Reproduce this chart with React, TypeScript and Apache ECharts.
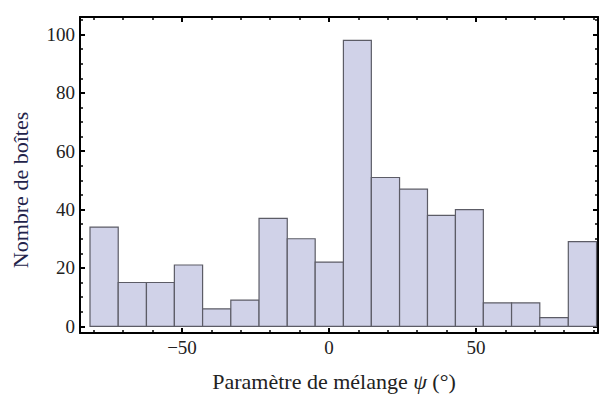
import React, { useEffect, useRef } from "react";
import * as echarts from "echarts";

// Histogram bin edges (degrees) and counts
const binEdges = [-81.3, -71.7, -62.1, -52.6, -43.0, -33.4, -23.8, -14.2, -4.7, 4.9, 14.4, 24.0, 33.5, 43.0, 52.5, 62.1, 71.7, 81.4, 91.0];
const counts = [34, 15, 15, 21, 6, 9, 37, 30, 22, 98, 51, 47, 38, 40, 8, 8, 3, 29];

const xMajorTicks = [-50, 0, 50];
const xMinorTicks = [-80, -70, -60, -40, -30, -20, -10, 10, 20, 30, 40, 60, 70, 80, 90];
const yMajorTicks = [0, 20, 40, 60, 80, 100];
const yMinorTicks = [5, 10, 15, 25, 30, 35, 45, 50, 55, 65, 70, 75, 85, 90, 95, 105];

const xTitleParts = ["Paramètre de mélange ", "ψ", " (°)"];
const yTitle = "Nombre de boîtes";

const FONT = "Liberation Serif";

export default function App() {
  const ref = useRef<HTMLDivElement>(null);
  useEffect(() => {
    if (!ref.current) return;
    const chart = echarts.init(ref.current, undefined, { renderer: "svg" });
    const xMin = -84.7, xMax = 91.5, yMin = -2.3, yMax = 106;
    const lineStyle = { color: "#000", width: 2 };
    const labelStyle = { fontFamily: FONT, fontSize: 19, color: "#222" };

    const mkX = (pos: "top" | "bottom", major: boolean, showLine: boolean, showLabel: boolean) => ({
      type: "value",
      min: xMin,
      max: xMax,
      position: pos,
      axisLine: { show: showLine, onZero: false, lineStyle },
      axisTick: {
        show: true,
        inside: true,
        length: major ? 5 : 3,
        lineStyle: { color: "#000", width: major ? 2 : 1.5 },
        customValues: major ? xMajorTicks : xMinorTicks,
      },
      axisLabel: showLabel
        ? {
            show: true,
            customValues: xMajorTicks,
            margin: 5,
            ...labelStyle,
            formatter: (v: number) => (v < 0 ? "\u2212" + Math.abs(v) : String(v)),
          }
        : { show: false },
      splitLine: { show: false },
    });
    const mkY = (pos: "left" | "right", major: boolean, showLine: boolean, showLabel: boolean) => ({
      type: "value",
      min: yMin,
      max: yMax,
      position: pos,
      axisLine: { show: showLine, onZero: false, lineStyle },
      axisTick: {
        show: true,
        inside: true,
        length: major ? 5 : 3,
        lineStyle: { color: "#000", width: major ? 2 : 1.5 },
        customValues: major ? yMajorTicks : yMinorTicks,
      },
      axisLabel: showLabel
        ? { show: true, customValues: yMajorTicks, margin: 5, ...labelStyle }
        : { show: false },
      splitLine: { show: false },
    });

    const data = counts.map((c, i) => [binEdges[i], binEdges[i + 1], c]);

    chart.setOption({
      animation: false,
      backgroundColor: "#fff",
      grid: { left: 80, top: 17, right: 1, bottom: 63, containLabel: false },
      xAxis: [
        mkX("bottom", true, true, true),
        mkX("bottom", false, false, false),
        mkX("top", true, true, false),
        mkX("top", false, false, false),
      ],
      yAxis: [
        mkY("left", true, true, true),
        mkY("left", false, false, false),
        mkY("right", true, true, false),
        mkY("right", false, false, false),
      ],
      series: [
        {
          type: "custom",
          xAxisIndex: 0,
          yAxisIndex: 0,
          data,
          encode: { x: [0, 1], y: 2 },
          renderItem: (params: any, api: any) => {
            const lo = api.value(0);
            const hi = api.value(1);
            const c = api.value(2);
            const p0 = api.coord([lo, 0]);
            const p1 = api.coord([hi, c]);
            return {
              type: "rect",
              shape: { x: p0[0], y: p1[1], width: p1[0] - p0[0], height: p0[1] - p1[1] },
              style: { fill: "#d0d2e8", stroke: "#5c5c66", lineWidth: 1.2 },
            };
          },
        },
      ],
      graphic: [
        {
          type: "text",
          x: 334,
          y: 381,
          style: {
            text: xTitleParts[0] + "{i|" + xTitleParts[1] + "}" + xTitleParts[2],
            rich: { i: { fontFamily: FONT, fontSize: 22, fontStyle: "italic", fill: "#222" } },
            fontFamily: FONT,
            fontSize: 22,
            fill: "#222",
            textAlign: "center",
            textVerticalAlign: "middle",
          },
        },
        {
          type: "text",
          x: 20,
          y: 190,
          rotation: Math.PI / 2,
          style: {
            text: yTitle,
            fontFamily: FONT,
            fontSize: 22,
            fill: "#23234a",
            textAlign: "center",
            textVerticalAlign: "middle",
          },
        },
      ],
    });
    return () => chart.dispose();
  }, []);
  return (
    <div
      ref={ref}
      style={{ position: "absolute", left: 0, top: 0, width: 599, height: 396, background: "#fff" }}
    />
  );
}
